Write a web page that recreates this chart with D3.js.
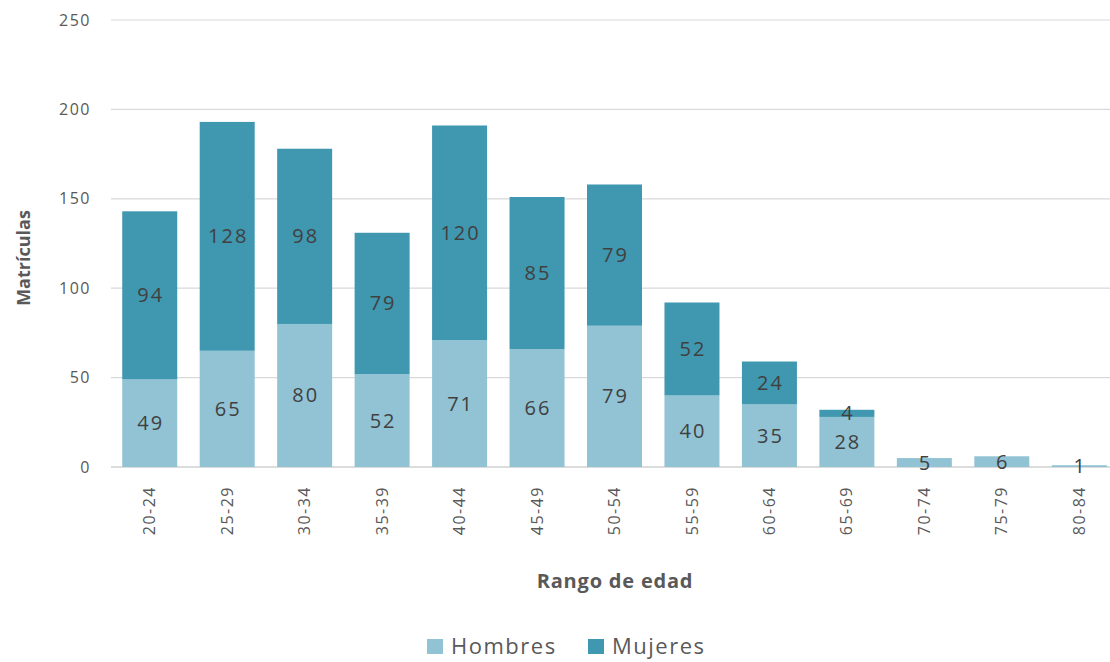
<!DOCTYPE html>
<html>
<head>
<meta charset="utf-8">
<script src="https://cdn.jsdelivr.net/npm/d3@7"></script>
<style>
  body { margin: 0; background: #fff; }
  svg { font-family: "Open Sans", "Noto Sans", sans-serif; }
</style>
</head>
<body>
<div id="chart"></div>
<script>
// data
const categories = ['20-24', '25-29', '30-34', '35-39', '40-44', '45-49', '50-54',
    '55-59', '60-64', '65-69', '70-74', '75-79', '80-84'];
const hombres = [49, 65, 80, 52, 71, 66, 79, 40, 35, 28, 5, 6, 1];
const mujeres = [94, 128, 98, 79, 120, 85, 79, 52, 24, 4, 0, 0, 0];
const seriesNames = ['Hombres', 'Mujeres'];
const seriesColors = ['#92c3d5', '#4097b0'];
const yTicks = [0, 50, 100, 150, 200, 250];

const width = 1110;
const height = 662;
const plotLeft = 111, plotRight = 1118, plotTop = 20, plotBottom = 467;

const svg = d3.select('#chart')
    .append('svg')
    .attr('width', width)
    .attr('height', height);

const x = d3.scaleBand()
    .domain(categories)
    .range([plotLeft, plotRight])
    .paddingInner(0.29)
    .paddingOuter(0.145);

const y = d3.scaleLinear()
    .domain([0, 250])
    .range([plotBottom, plotTop]);

// gridlines
svg.append('g')
    .selectAll('line')
    .data(yTicks)
    .join('line')
    .attr('x1', plotLeft)
    .attr('x2', plotRight)
    .attr('y1', d => y(d))
    .attr('y2', d => y(d))
    .attr('stroke', d => d === 0 ? '#d0d0d0' : '#d9d9d9')
    .attr('stroke-width', d => d === 0 ? 1.5 : 1.2);

// y axis labels
svg.append('g')
    .selectAll('text')
    .data(yTicks)
    .join('text')
    .attr('x', 91)
    .attr('y', d => y(d))
    .attr('dy', '0.35em')
    .attr('text-anchor', 'end')
    .attr('fill', '#595959')
    .style('font-size', '16px')
    .style('letter-spacing', '1.5px')
    .text(d => d);

// stacked data
const rows = categories.map((c, i) => ({ cat: c, Hombres: hombres[i], Mujeres: mujeres[i] }));
const stack = d3.stack().keys(seriesNames)(rows);

const layers = svg.append('g')
    .selectAll('g')
    .data(stack)
    .join('g')
    .attr('fill', (d, i) => seriesColors[i]);

layers.selectAll('rect')
    .data(d => d)
    .join('rect')
    .attr('x', d => x(d.data.cat))
    .attr('width', x.bandwidth())
    .attr('y', d => y(d[1]))
    .attr('height', d => y(d[0]) - y(d[1]));

// data labels
layers.selectAll('text')
    .data(d => d.filter(s => s[1] - s[0] > 0))
    .join('text')
    .attr('x', d => x(d.data.cat) + x.bandwidth() / 2 + 1)
    .attr('y', d => (y(d[0]) + y(d[1])) / 2)
    .attr('dy', '0.35em')
    .attr('text-anchor', 'middle')
    .attr('fill', '#404040')
    .style('font-size', '20px')
    .style('letter-spacing', '2px')
    .text(d => d[1] - d[0]);

// x axis labels (rotated)
svg.append('g')
    .selectAll('text')
    .data(categories)
    .join('text')
    .attr('transform', d => `translate(${x(d) + x.bandwidth() / 2},486) rotate(-90)`)
    .attr('dy', '0.35em')
    .attr('text-anchor', 'end')
    .attr('fill', '#595959')
    .style('font-size', '16px')
    .style('letter-spacing', '1.5px')
    .text(d => d);

// axis titles
svg.append('text')
    .attr('transform', 'translate(30,258) rotate(-90)')
    .attr('text-anchor', 'middle')
    .attr('fill', '#595959')
    .style('font-size', '18px')
    .style('font-weight', 'bold')
    .text('Matrículas');

svg.append('text')
    .attr('x', 615)
    .attr('y', 588)
    .attr('text-anchor', 'middle')
    .attr('fill', '#595959')
    .style('font-size', '20px')
    .style('font-weight', 'bold')
    .style('letter-spacing', '0.8px')
    .text('Rango de edad');

// legend
const legend = svg.append('g')
    .selectAll('g')
    .data(seriesNames)
    .join('g')
    .attr('transform', (d, i) => `translate(${427 + i * 161},639)`);

legend.append('rect')
    .attr('width', 16)
    .attr('height', 15)
    .attr('fill', (d, i) => seriesColors[i]);

legend.append('text')
    .attr('x', 24)
    .attr('y', 7)
    .attr('dy', '0.35em')
    .attr('fill', '#595959')
    .style('font-size', '22px')
    .style('letter-spacing', '1.5px')
    .text(d => d);
</script>
</body>
</html>
